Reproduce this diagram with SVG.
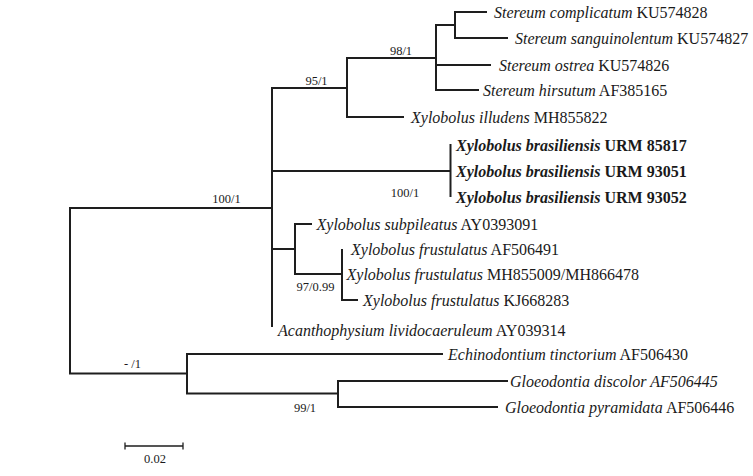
<svg xmlns="http://www.w3.org/2000/svg" width="753" height="476" viewBox="0 0 753 476">
<style>
.br{fill:none;stroke:#1e1e1e;stroke-width:2;stroke-linecap:butt;stroke-linejoin:miter}
.sc{fill:none;stroke:#1e1e1e;stroke-width:1.3}
text{font-family:"Liberation Serif","Times New Roman",serif;fill:#1a1a1a}
.tx{font-size:16px}
.b{font-weight:bold}
.i{font-style:italic}
.lb{font-size:12.5px;text-anchor:middle}
</style>
<rect width="753" height="476" fill="#ffffff"/>
<g id="connectors">
<path class="br" d="M272 208 H70 V373.5 H187"/>
<path class="br" d="M347 88 H272 V327"/>
<path class="br" d="M272 171 H450.5"/>
<path class="br" d="M272 249 H295"/>
<path class="br" d="M436 58 H347 V117 H404"/>
<path class="br" d="M455 25 H436 V90 H479"/>
<path class="br" d="M436 65 H491"/>
<path class="br" d="M487 12 H455 V38 H508"/>
<path class="br" d="M450.5 144 V197"/>
<path class="br" d="M312 224 H295 V274 H342"/>
<path class="br" d="M342 249 V300 H358"/>
<path class="br" d="M443 354 H187 V393.5 H338"/>
<path class="br" d="M508 381 H338 V407 H498"/>
</g>
<g id="support-labels">
<text class="lb" x="401" y="55">98/1</text>
<text class="lb" x="316.5" y="85">95/1</text>
<text class="lb" x="226.5" y="203">100/1</text>
<text class="lb" x="405" y="197">100/1</text>
<text class="lb" x="315.5" y="291">97/0.99</text>
<text class="lb" x="132.5" y="368">- /1</text>
<text class="lb" x="305" y="411.5">99/1</text>
</g>
<g id="n-complicatum"><text class="tx" x="494" y="18"><tspan class="i">Stereum complicatum</tspan> KU574828</text></g>
<g id="n-sanguinolentum"><text class="tx" x="515" y="44"><tspan class="i">Stereum sanguinolentum</tspan> KU574827</text></g>
<g id="n-ostrea"><text class="tx" x="499" y="71"><tspan class="i">Stereum ostrea</tspan> KU574826</text></g>
<g id="n-hirsutum"><text class="tx" x="483" y="96"><tspan class="i">Stereum hirsutum</tspan> AF385165</text></g>
<g id="n-illudens"><text class="tx" x="411" y="123"><tspan class="i">Xylobolus illudens</tspan> MH855822</text></g>
<g id="n-urm85817"><text class="tx b" x="456" y="151"><tspan class="i">Xylobolus brasiliensis</tspan> URM 85817</text></g>
<g id="n-urm93051"><text class="tx b" x="456" y="177"><tspan class="i">Xylobolus brasiliensis</tspan> URM 93051</text></g>
<g id="n-urm93052"><text class="tx b" x="456" y="203"><tspan class="i">Xylobolus brasiliensis</tspan> URM 93052</text></g>
<g id="n-subpileatus"><text class="tx" x="316.5" y="230"><tspan class="i">Xylobolus subpileatus</tspan> AY0393091</text></g>
<g id="n-frust-af"><text class="tx" x="351" y="255"><tspan class="i">Xylobolus frustulatus</tspan> AF506491</text></g>
<g id="n-frust-mh"><text class="tx" x="346.5" y="280"><tspan class="i">Xylobolus frustulatus</tspan> MH855009/MH866478</text></g>
<g id="n-frust-kj"><text class="tx" x="363" y="306"><tspan class="i">Xylobolus frustulatus</tspan> KJ668283</text></g>
<g id="n-acantho"><text class="tx" x="278" y="336"><tspan class="i">Acanthophysium lividocaeruleum</tspan> AY039314</text></g>
<g id="n-echino"><text class="tx" x="448" y="360"><tspan class="i">Echinodontium tinctorium</tspan> AF506430</text></g>
<g id="n-discolor"><text class="tx i" x="510" y="387">Gloeodontia discolor AF506445</text></g>
<g id="n-pyramidata"><text class="tx" x="505" y="413"><tspan class="i">Gloeodontia pyramidata</tspan> AF506446</text></g>
<g id="scale-bar">
<path class="sc" d="M125 446 H183 M125 442.5 V449.5 M183 442.5 V449.5"/>
<text class="lb" x="155" y="463">0.02</text>
</g>
</svg>
